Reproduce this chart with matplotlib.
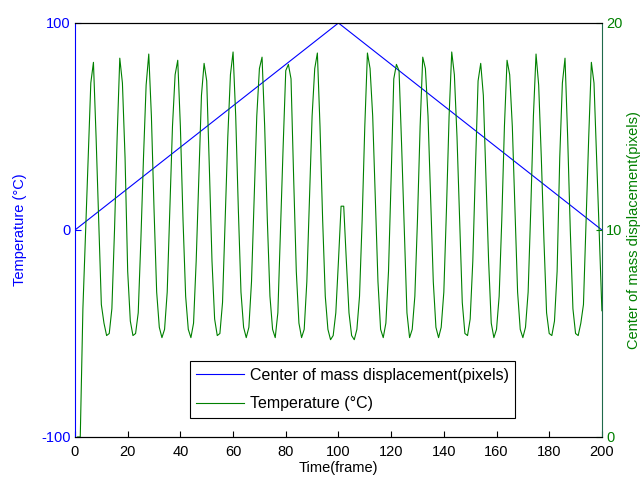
import numpy as np
import matplotlib
matplotlib.use("Agg")
import matplotlib.pyplot as plt

plt.rcParams['font.family'] = ['Liberation Sans', 'DejaVu Sans']
plt.rcParams['axes.unicode_minus'] = False

# blue series (left axis): vertices of the displacement line
disp_frames = [0, 100, 200]
disp_values = [0, 100, 0]

# green series (right axis), one value per frame 1..200
temp_frames = list(range(1, 201))
temp_values = [
    0, 0, 6.2, 9.8, 13.5, 17.1, 18.1, 14.5, 10.5, 6.4,
    5.5, 4.9, 5.0, 6.2, 10.0, 14.5, 18.3, 17.1, 13.5, 8.0,
    5.6, 4.9, 5.0, 6.0, 9.5, 13.5, 17.0, 18.5, 15.5, 11.0,
    7.0, 5.3, 4.8, 5.2, 7.0, 11.0, 15.0, 17.5, 18.2, 15.0,
    10.5, 6.8, 5.2, 4.8, 5.5, 8.5, 12.5, 16.5, 18.05, 17.2,
    13.0, 8.5, 5.7, 4.9, 5.0, 6.5, 10.5, 14.5, 17.5, 18.6,
    15.5, 11.0, 7.0, 5.3, 4.8, 5.3, 7.5, 11.5, 15.5, 17.8,
    18.35, 15.0, 10.5, 6.8, 5.2, 4.8, 6.0, 10.0, 14.0, 17.7,
    18.0, 17.3, 12.5, 8.0, 5.5, 4.8, 5.2, 7.5, 11.5, 15.5,
    17.8, 18.55, 15.0, 10.5, 6.8, 5.2, 4.7, 4.9, 6.0, 8.5,
    11.15, 11.15, 8.5, 6.0, 4.9, 4.7, 5.2, 6.8, 10.5, 15.0,
    18.55, 17.8, 15.5, 11.5, 7.5, 5.2, 4.8, 5.5, 8.0, 12.5,
    17.3, 18.0, 17.7, 14.0, 10.0, 6.0, 4.8, 5.2, 6.8, 10.5,
    15.0, 18.35, 17.8, 15.5, 11.5, 7.5, 5.3, 4.8, 5.3, 7.0,
    11.0, 15.5, 18.6, 17.5, 14.5, 10.5, 6.5, 5.0, 4.9, 5.7,
    8.5, 13.0, 17.2, 18.05, 16.5, 12.5, 8.5, 5.5, 4.8, 5.2,
    6.8, 10.5, 15.0, 18.2, 17.5, 15.0, 11.0, 7.0, 5.2, 4.8,
    5.3, 7.0, 11.0, 15.5, 18.5, 17.0, 13.5, 9.5, 6.0, 5.0,
    4.9, 5.6, 8.0, 13.5, 17.1, 18.3, 14.5, 10.0, 6.2, 5.0,
    4.9, 5.5, 6.4, 10.5, 14.5, 18.1, 17.1, 13.5, 9.8, 6.1,
]

x_ticks = [0, 20, 40, 60, 80, 100, 120, 140, 160, 180, 200]
left_ticks = [-100, 0, 100]
right_ticks = [0, 10, 20]

blue = '#0000ff'
green = '#008000'

fig = plt.figure(figsize=(6.41, 4.8), dpi=100)
ax1 = fig.add_axes([0.117, 0.0896, 0.822, 0.8625])
ax2 = ax1.twinx()

l1, = ax1.plot(disp_frames, disp_values, color=blue, lw=0.8)
l2, = ax2.plot(temp_frames, temp_values, color=green, lw=0.8)

ax1.set_xlim(0, 200)
ax1.set_ylim(-100, 100)
ax2.set_ylim(0, 20)
ax1.set_xticks(x_ticks)
ax1.set_yticks(left_ticks)
ax2.set_yticks(right_ticks)

ax1.tick_params(axis='x', direction='in', length=4, labelsize=10.5, colors='black', pad=5.5)
ax1.tick_params(axis='y', direction='in', length=4, labelsize=10.5, colors=blue, pad=3)
ax2.tick_params(axis='y', direction='in', length=4, labelsize=10.5, colors=green, pad=3)

ax1.spines['left'].set_color(blue)
ax1.spines['right'].set_visible(False)
ax2.spines['left'].set_visible(False)
ax2.spines['right'].set_color('#1f6a4a')
for ax in (ax1, ax2):
    ax.spines['top'].set_color('black')
    ax.spines['bottom'].set_color('black')

ax1.set_xlabel('Time(frame)', fontsize=10.5, labelpad=2)
ax1.set_ylabel('Temperature (°C)', fontsize=10.5, color=blue, labelpad=10)
ax2.set_ylabel('Center of mass displacement(pixels)', fontsize=10.5, color=green, labelpad=3)

leg = ax2.legend([l1, l2], ['Center of mass displacement(pixels)', 'Temperature (°C)'],
                 loc='lower center', bbox_to_anchor=(0.527, 0.027), fontsize=11.5,
                 fancybox=False, edgecolor='black', framealpha=1,
                 handlelength=3.0, handletextpad=0.35, borderpad=0.4, labelspacing=0.85)
leg.get_frame().set_linewidth(0.8)

fig.savefig('out.png', dpi=100)
